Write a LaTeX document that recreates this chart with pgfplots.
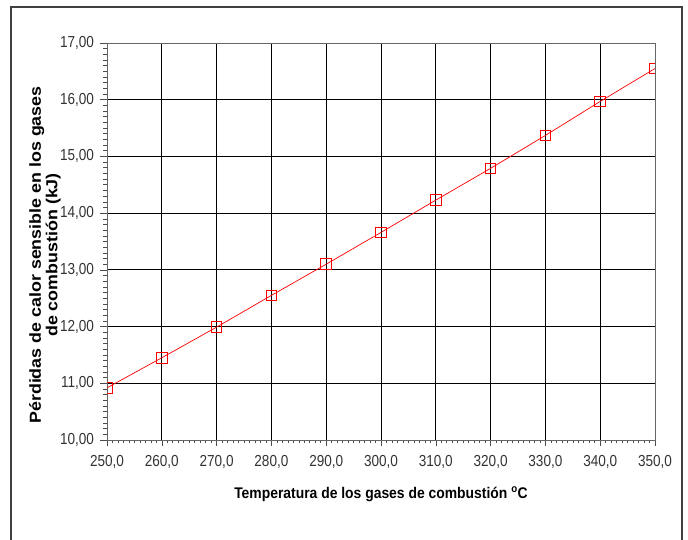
\documentclass[border=0pt]{standalone}
\usepackage{pgfplots}
\pgfplotsset{compat=1.18}
\usepackage{fontspec}
\setmainfont{Liberation Sans}
\newfontfamily\narrowfont[FakeStretch=0.85]{Liberation Sans}
\newfontfamily\widefont[FakeStretch=1.12]{Liberation Sans}
\newfontfamily\xlabfont[FakeStretch=0.9]{Liberation Sans}
\begin{document}
\begin{tikzpicture}
\path[use as bounding box] (0bp,0bp) rectangle (688bp,540bp);
\draw[black!75, line width=1.5bp] (11bp,-2bp) -- (11bp,533bp) -- (682bp,533bp) -- (682bp,-2bp);
\begin{axis}[
  at={(107bp,100bp)}, anchor=south west,
  scale only axis, width=548bp, height=397bp,
  xmin=250, xmax=350, ymin=10, ymax=17,
  xtick={250,260,...,350}, ytick={10,11,...,17},
  minor x tick num=9, minor y tick num=9,
  xtick pos=left, ytick pos=left,
  tick align=outside,
  major tick length=6.5bp, minor tick length=3.5bp,
  grid=major,
  major grid style={black, line width=0.8bp},
  axis line style={black!60, line width=0.8bp},
  every tick/.style={black!70, line width=0.6bp},
  /pgf/number format/assume math mode=true,
  xticklabel style={yshift=-5bp, /pgf/number format/.cd, fixed, fixed zerofill, precision=1, use comma, 1000 sep={}},
  yticklabel style={xshift=-3bp, /pgf/number format/.cd, fixed, fixed zerofill, precision=2, use comma, 1000 sep={}},
  tick label style={font=\narrowfont\fontsize{16}{16}\selectfont, text=black!80},
  xlabel={Temperatura de los gases de combustión \textsuperscript{o}C},
  xlabel style={font=\xlabfont\bfseries\fontsize{15.5}{16}\selectfont, at={(axis description cs:0.5,0)}, anchor=base, yshift=-58bp},
  ylabel={Pérdidas de calor sensible en los gases\\de combustión (kJ)},
  ylabel style={font=\widefont\bfseries\fontsize{16}{16.5}\selectfont, at={([xshift=-62bp]axis description cs:0,0.466)}, anchor=center, align=center},
  clip marker paths=true,
]
\addplot[red, line width=0.7bp, mark=square, mark size=5.3bp, mark options={fill=none, solid, draw=red, line width=1bp}]
coordinates {
(250,10.92) (260,11.45) (270,11.99) (280,12.55) (290,13.10) (300,13.66)
(310,14.23) (320,14.79) (330,15.37) (340,15.97) (350,16.55)
};
\end{axis}
\end{tikzpicture}
\end{document}
